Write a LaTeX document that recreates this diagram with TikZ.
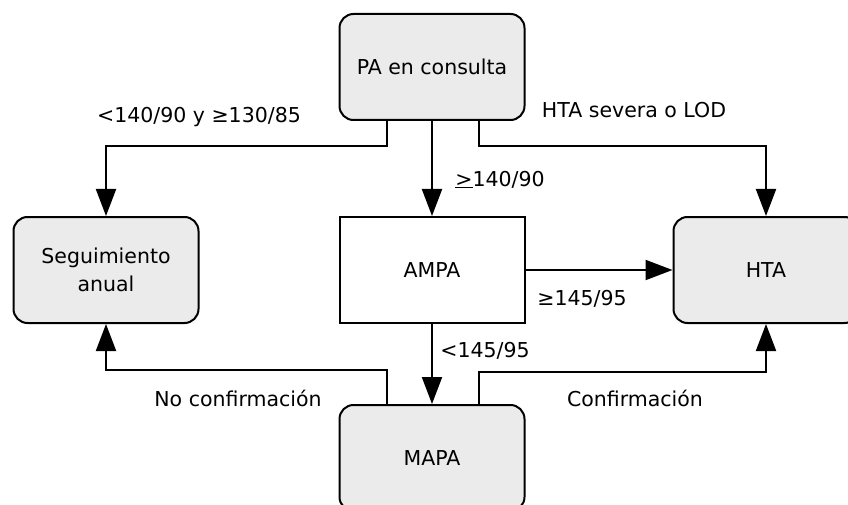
\documentclass[tikz,border=0pt]{standalone}
\usepackage{fontspec}
\setmainfont{DejaVu Sans}
\usetikzlibrary{arrows.meta}
\definecolor{boxgray}{HTML}{EBEBEB}
\tikzset{
    box/.style={draw, line width=2pt, rounded corners=14pt, fill=boxgray,
        minimum width=185pt, minimum height=106pt, align=center,
        font=\fontsize{20.5}{28.5}\selectfont},
    plainbox/.style={box, rounded corners=0pt, fill=white},
    arr/.style={line width=2pt, -{Triangle[width=20pt,length=27pt]}},
    lbl/.style={inner sep=0pt, anchor=base, font=\fontsize{20.5}{24}\selectfont}
}

\begin{document}
\begin{tikzpicture}[x=1pt, y=-1pt]
            \useasboundingbox (0, 0) rectangle (848, 505);
            \clip (0, 0) rectangle (848, 505);
            % boxes
            \node[box] (pa) at (432, 67) {PA en consulta};
            \node[box] (seg) at (106, 270) {Seguimiento\\anual};
            \node[plainbox] (ampa) at (432, 270) {AMPA};
            \node[box] (hta) at (766, 270) {HTA};
            \node[box] (mapa) at (432, 458) {MAPA};
            % connectors
            \draw[arr] ([xshift=-45pt]pa.south) -- ++(0, 25) -| (seg);
            \draw[arr] (pa) -- (ampa);
            \draw[arr] ([xshift=47pt]pa.south) -- ++(0, 25) -| (hta);
            \draw[arr] (ampa) -- (hta);
            \draw[arr] (ampa) -- (mapa);
            \draw[arr] ([xshift=-45pt]mapa.north) -- ++(0, -34) -| (seg);
            \draw[arr] ([xshift=47pt]mapa.north) -- ++(0, -32) -| (hta);
            % labels
            \node[lbl] (l-seg) at (199, 123) {<140/90 y ≥130/85};
            \node[lbl] (l-sev) at (634, 118) {HTA severa o LOD};
            \node[lbl] (l-ampa) at (500, 186) {\underline{>}140/90};
            \node[lbl] (l-hta) at (582, 305) {≥145/95};
            \node[lbl] (l-mapa) at (485, 357) {<145/95};
            \node[lbl] (l-no) at (238, 406) {No confirmación};
            \node[lbl] (l-si) at (635, 406) {Confirmación};
        \end{tikzpicture}
\end{document}
